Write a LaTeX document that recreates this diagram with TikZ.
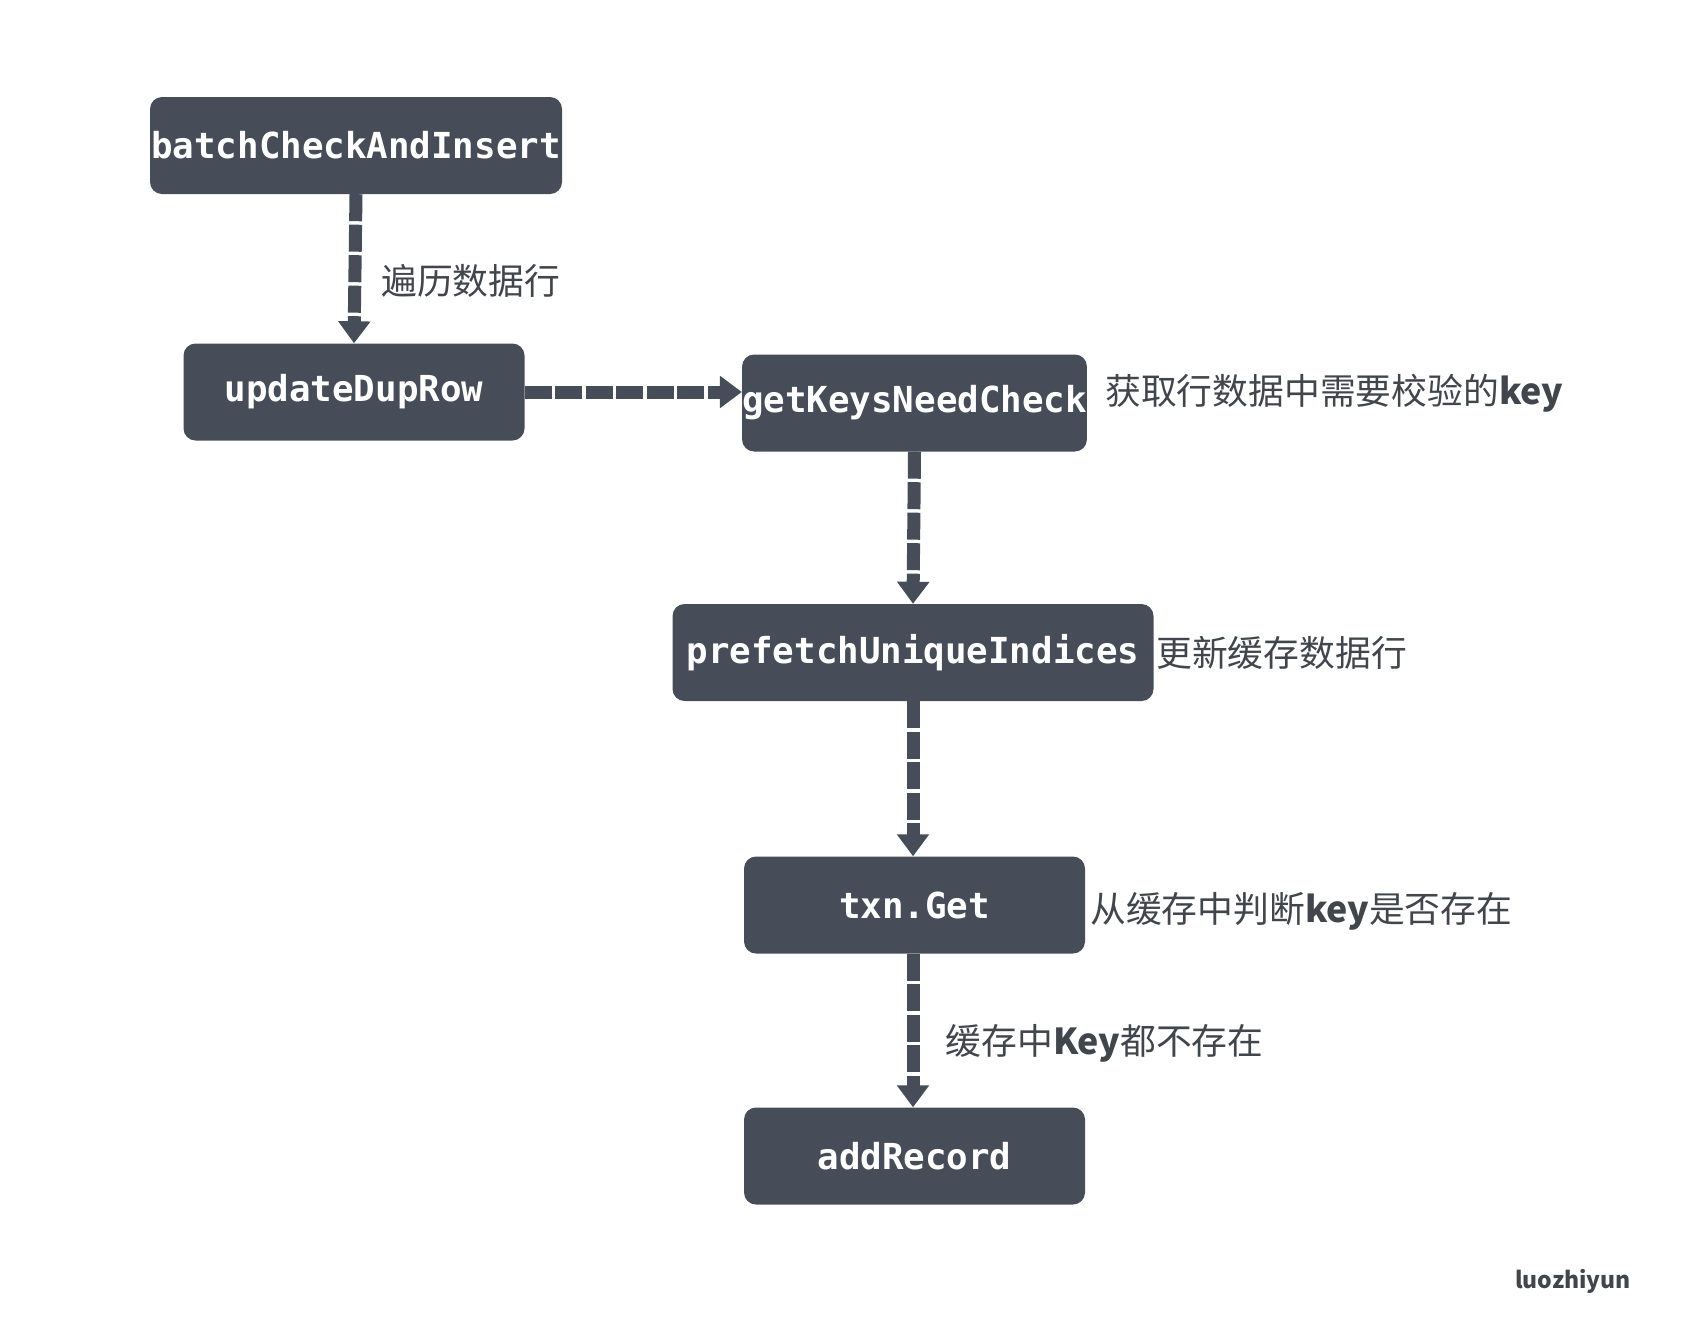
\documentclass[tikz,border=0pt]{standalone}
\usepackage{fontspec}
\usetikzlibrary{arrows.meta}
\setmonofont{DejaVu Sans Mono}
\newfontfamily\cjk{Noto Sans CJK SC}
\definecolor{boxfill}{HTML}{474D58}
\definecolor{labtext}{HTML}{41454C}
\tikzset{
  x=1pt, y=-1pt,
  stepbox/.style={fill=boxfill, rounded corners=12pt, minimum height=97pt, inner sep=0pt,
    text=white, font=\fontsize{35.8}{40}\selectfont\ttfamily\bfseries},
  flowarrow/.style={draw=boxfill, line width=13pt, dash pattern=on 27pt off 3.5pt,
    -{Triangle[width=31pt,length=22pt]}},
  labelnode/.style={anchor=west, inner sep=0pt, text=labtext, font=\fontsize{35.8}{40}\selectfont\cjk}
}
\begin{document}
\begin{tikzpicture}
\useasboundingbox (0,0) rectangle (1683,1323);
\node[stepbox, minimum width=412pt] (bci) at (356,145.5) {batchCheckAndInsert};
\node[stepbox, minimum width=341pt] (udr) at (354,392) {updateDupRow};
\node[stepbox, minimum width=341pt] (gk) at (914.5,403) {getKeysNeedCheck};
\node[stepbox, minimum width=481pt] (pf) at (913,652.5) {prefetchUniqueIndices};
\node[stepbox, minimum width=341pt] (tg) at (914.5,905) {txn.Get};
\node[stepbox, minimum width=341pt] (ar) at (914.5,1156) {addRecord};

\draw[flowarrow] (bci.south) -- (udr.north);
\draw[flowarrow] (udr.east) -- (udr.east -| gk.west);
\draw[flowarrow] (gk.south) -- (pf.north);
\draw[flowarrow] (pf.south) -- (pf.south |- tg.north);
\draw[flowarrow] (tg.south -| pf.south) -- (pf.south |- ar.north);

\node[labelnode] (l1) at (381,281) {遍历数据行};
\node[labelnode] (l2) at (1105,393) {获取行数据中需要校验的{\bfseries key}};
\node[labelnode] (l3) at (1156,652.5) {更新缓存数据行};
\node[labelnode] (l4) at (1090,911) {从缓存中判断{\bfseries key}是否存在};
\node[labelnode] (l5) at (945.5,1043) {缓存中{\bfseries Key}都不存在};
\node[anchor=west, inner sep=0pt, text=labtext, font=\fontsize{23}{26}\selectfont\cjk\bfseries] (wm) at (1515,1281.5) {luozhiyun};
\end{tikzpicture}
\end{document}
